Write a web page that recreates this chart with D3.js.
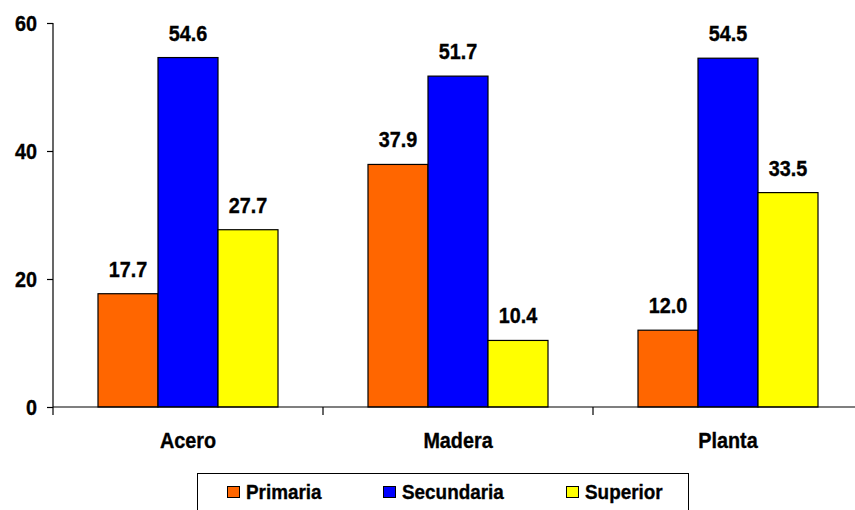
<!DOCTYPE html>
<html>
<head>
<meta charset="utf-8">
<script src="https://cdn.jsdelivr.net/npm/d3@7"></script>
<style>
  html, body { margin: 0; padding: 0; background: #fff; }
  svg { display: block; }
  text { font-family: "Liberation Sans", Arial, sans-serif; font-weight: bold; fill: #000; stroke: #000; stroke-width: 0.35px; }
</style>
</head>
<body>
<svg id="chart" width="855" height="510"></svg>
<script>
// Data: share (%) by education level for each sector
const categories = ["Acero", "Madera", "Planta"];
const seriesNames = ["Primaria", "Secundaria", "Superior"];
const primaria = [17.7, 37.9, 12.0];
const secundaria = [54.6, 51.7, 54.5];
const superior = [27.7, 10.4, 33.5];
const yTicks = [0, 20, 40, 60];
const colors = ["#FF6600", "#0000FF", "#FFFF00"];

const seriesValues = [primaria, secundaria, superior];

// Text is set slightly condensed horizontally
const SX = 0.9;
const place = (x, y) => `translate(${x},${y}) scale(${SX},1)`;

const svg = d3.select("#chart");
const plot = { left: 53, right: 863, top: 23, bottom: 407 };

const x = d3.scaleBand().domain(categories).range([plot.left, plot.right]).padding(0);
const xSub = d3.scaleBand().domain(seriesNames).range([0, x.bandwidth()])
  .paddingInner(0).paddingOuter(0.75);
const y = d3.scaleLinear().domain([0, 60]).range([plot.bottom, plot.top]);

// Bars
const groups = svg.append("g").selectAll("g")
  .data(categories)
  .join("g")
  .attr("transform", d => `translate(${x(d)},0)`);

const rows = (cat, ci) => seriesNames.map((s, si) => ({ s, si, v: seriesValues[si][ci] }));

groups.selectAll("rect")
  .data((d, ci) => rows(d, ci))
  .join("rect")
  .attr("x", d => xSub(d.s))
  .attr("y", d => y(d.v))
  .attr("width", xSub.bandwidth())
  .attr("height", d => y(0) - y(d.v))
  .attr("fill", d => colors[d.si])
  .attr("stroke", "#000")
  .attr("stroke-width", 1.2);

// Value labels
groups.selectAll("text.val")
  .data((d, ci) => rows(d, ci))
  .join("text")
  .attr("class", "val")
  .attr("transform", d => place(xSub(d.s) + xSub.bandwidth() / 2, y(d.v) - 17))
  .attr("text-anchor", "middle")
  .style("font-size", "22px")
  .text(d => d.v.toFixed(1));

// Y axis
const yAxis = svg.append("g")
  .attr("transform", `translate(${plot.left},0)`)
  .call(d3.axisLeft(y).tickValues(yTicks).tickSize(6).tickFormat(""));
yAxis.selectAll("path, line").attr("stroke", "#000").attr("stroke-width", 1.2);
yAxis.select(".domain").attr("d", `M0,${plot.top}V${plot.bottom}`);
svg.append("g").selectAll("text")
  .data(yTicks)
  .join("text")
  .attr("transform", d => place(plot.left - 16, y(d) + 8))
  .attr("text-anchor", "end")
  .style("font-size", "22px")
  .text(d3.format("d"));

// X axis: baseline with ticks at the category boundaries
const xAxis = svg.append("g");
xAxis.append("line")
  .attr("x1", plot.left).attr("x2", plot.right)
  .attr("y1", y(0)).attr("y2", y(0))
  .attr("stroke", "#000").attr("stroke-width", 1.2);
const boundaries = categories.map(c => x(c)).concat([x(categories[categories.length - 1]) + x.bandwidth()]);
xAxis.selectAll("line.tick")
  .data(boundaries)
  .join("line")
  .attr("class", "tick")
  .attr("x1", d => d).attr("x2", d => d)
  .attr("y1", y(0)).attr("y2", y(0) + 8)
  .attr("stroke", "#000").attr("stroke-width", 1.2);
xAxis.selectAll("text")
  .data(categories)
  .join("text")
  .attr("transform", d => place(x(d) + x.bandwidth() / 2, 448))
  .attr("text-anchor", "middle")
  .style("font-size", "22px")
  .text(d => d);

// Legend
const legend = svg.append("g");
legend.append("rect")
  .attr("x", 197.5).attr("y", 473.5)
  .attr("width", 491).attr("height", 40)
  .attr("fill", "#fff").attr("stroke", "#000").attr("stroke-width", 1);
const legendX = [227, 383, 566];
const items = legend.selectAll("g.item")
  .data(seriesNames)
  .join("g")
  .attr("class", "item")
  .attr("transform", (d, i) => `translate(${legendX[i]},0)`);
items.append("rect")
  .attr("x", 0.5).attr("y", 486.5)
  .attr("width", 12).attr("height", 11)
  .attr("fill", (d, i) => colors[i])
  .attr("stroke", "#000").attr("stroke-width", 1);
items.append("text")
  .attr("transform", place(19, 499))
  .style("font-size", "21px")
  .text(d => d);
</script>
</body>
</html>
